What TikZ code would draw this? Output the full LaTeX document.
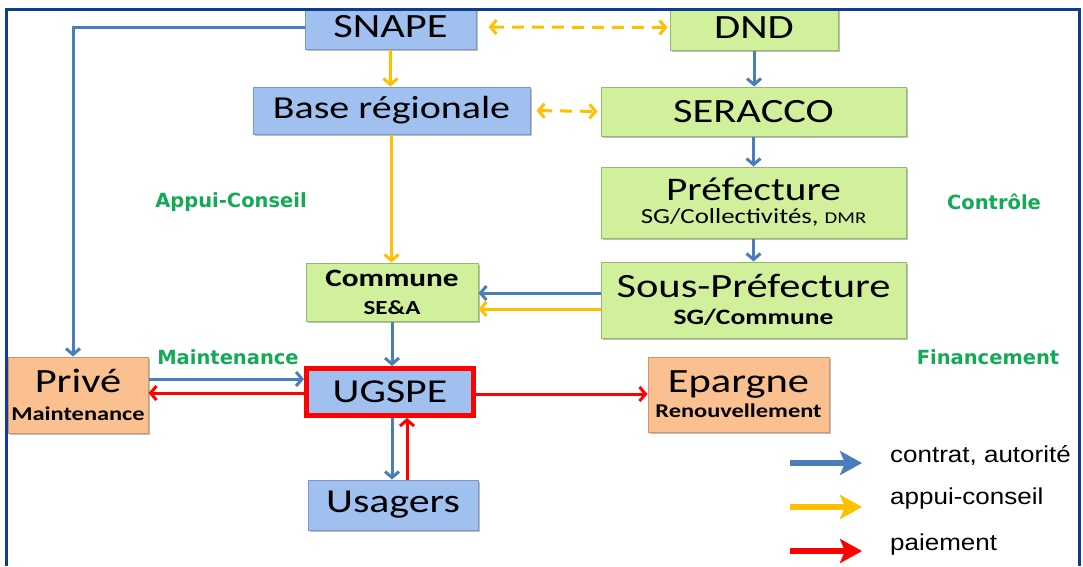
\documentclass[tikz,border=0pt]{standalone}
\usepackage{fontspec}
\setmainfont[FakeStretch=1.25]{Carlito}
\newfontfamily\greenfont{DejaVu Sans}
\newfontfamily\legfont[FakeStretch=1.13]{Liberation Sans}
\usetikzlibrary{arrows.meta,shadows}
\definecolor{boxblue}{RGB}{160,193,240}
\definecolor{boxblueline}{RGB}{125,150,200}
\definecolor{boxgreen}{RGB}{208,240,155}
\definecolor{boxgreenline}{RGB}{150,185,105}
\definecolor{boxorange}{RGB}{250,192,143}
\definecolor{boxorangeline}{RGB}{205,150,110}
\definecolor{lineblue}{RGB}{74,126,187}
\definecolor{lineorange}{RGB}{255,192,0}
\definecolor{linered}{RGB}{255,0,0}
\definecolor{textgreen}{RGB}{20,170,85}
\definecolor{framecol}{RGB}{15,60,140}
\newcommand{\fsz}[1]{\fontsize{#1}{#1}\selectfont}
\newcommand{\fs}[2]{\fontsize{#1}{#2}\selectfont}
\begin{document}
\begin{tikzpicture}[x=1pt,y=-1pt,
  box/.style={draw, line width=1pt, inner sep=0pt, align=center,
    drop shadow={shadow xshift=2pt,shadow yshift=-2pt,opacity=0.25,fill=black}},
  bluebox/.style={box, fill=boxblue, draw=boxblueline},
  greenbox/.style={box, fill=boxgreen, draw=boxgreenline},
  orangebox/.style={box, fill=boxorange, draw=boxorangeline},
  conn/.style={line width=3pt, -{Straight Barb[length=6pt,width=14pt]}},
  bconn/.style={conn, draw=lineblue},
  oconn/.style={conn, draw=lineorange},
  rconn/.style={conn, draw=linered},
  dconn/.style={line width=3pt, draw=lineorange, dash pattern=on 12pt off 8pt,
    {Straight Barb[length=6pt,width=14pt]}-{Straight Barb[length=6pt,width=14pt]}},
  legarrow/.style={line width=6.5pt, -{Stealth[length=22pt,width=24pt,inset=5pt]}},
  glabel/.style={font=\greenfont\bfseries\fsz{19.5}, text=textgreen},
  legtext/.style={font=\legfont\fsz{23}, anchor=west, inner sep=0pt}
]
\useasboundingbox (0,0) rectangle (1083,566);
\fill[white] (0,0) rectangle (1083,566);

% boxes
\node[bluebox, minimum width=171pt, minimum height=44pt, font=\fsz{34}] (snape) at (390.5,27) {SNAPE};
\node[greenbox, minimum width=168pt, minimum height=45pt, font=\fsz{34}] (dnd) at (754,27.5) {DND};
\node[bluebox, minimum width=277pt, minimum height=47pt, font=\fsz{32}] (base) at (391.5,110.5) {Base régionale};
\node[greenbox, minimum width=305pt, minimum height=49pt, font=\fsz{34}] (seracco) at (753.5,111.5) {SERACCO};
\node[greenbox, minimum width=305pt, minimum height=71pt, font=\fs{21.5}{23}] (pref) at (753.5,202.5)
  {\fs{33}{23}Préfecture\\\fs{21.5}{23}SG/Collectivités, {\fs{16.5}{23}DMR}};
\node[greenbox, minimum width=172pt, minimum height=58pt, font=\bfseries\fs{20}{28}] (commune) at (392,292)
  {\fs{25}{28}Commune\\\fs{20}{28}SE\&A};
\node[greenbox, minimum width=305pt, minimum height=76pt, font=\fs{22}{27}] (spref) at (753.5,300)
  {\fs{34}{27}Sous-Préfecture\\\bfseries\fs{22}{27}SG/Commune};
\node[orangebox, minimum width=140pt, minimum height=76pt, font=\fs{19.5}{28}] (prive) at (78,395)
  {\fs{34}{28}Privé\\\bfseries\fs{19.5}{28}Maintenance};
\node[box, fill=boxblue, draw=linered, line width=5pt, minimum width=167pt, minimum height=47pt, font=\fsz{33.5}] (ugspe) at (390,392) {UGSPE};
\node[orangebox, minimum width=181pt, minimum height=75pt, font=\fs{19.5}{25}] (epargne) at (738.5,394.5)
  {\fs{34}{25}Epargne\\\bfseries\fs{19.5}{25}Renouvellement};
\node[bluebox, minimum width=170pt, minimum height=50pt, font=\fsz{33.5}] (usagers) at (393,505) {Usagers};

% green labels
\node[glabel] (lappui) at (231,202) {Appui-Conseil};
\node[glabel] (lcontrole) at (994,202) {Contrôle};
\node[glabel] (lmaint) at (228,357) {Maintenance};
\node[glabel] (lfin) at (988,357) {Financement};

% connectors
\draw[bconn] (snape.west) -| ([xshift=-5pt]prive.north);
\draw[dconn, shorten <=12pt, shorten >=2pt] (snape.east) -- (dnd.west);
\draw[oconn] (snape.south) -- (base.north -| snape.south);
\draw[dconn, shorten <=6pt, shorten >=3pt] (base.east) -- (seracco.west);
\draw[bconn] (dnd.south) -- (seracco.north -| dnd.south);
\draw[bconn] (seracco.south) -- (pref.north);
\draw[bconn] (pref.south) -- (spref.north);
\draw[oconn] (base.south) -- (commune.north -| base.south);
\draw[bconn] ([yshift=7pt]spref.west) -- ([yshift=7pt]spref.west -| commune.east);
\draw[oconn] ([yshift=-9pt]spref.west) -- ([yshift=-9pt]spref.west -| commune.east);
\draw[bconn] (commune.south) -- (ugspe.north -| commune.south);
\draw[bconn] ([yshift=16pt]prive.east) -- ([yshift=16pt]prive.east -| ugspe.west);
\draw[rconn] ([yshift=-1pt]ugspe.west) -- ([yshift=-1pt]ugspe.west -| prive.east);
\draw[rconn] ([yshift=-2pt]ugspe.east) -- ([yshift=-2pt]ugspe.east -| epargne.west);
\draw[bconn] ([xshift=2pt]ugspe.south) -- ([xshift=2pt]ugspe.south |- usagers.north);
\draw[rconn] ([xshift=17pt]ugspe.south |- usagers.north) -- ([xshift=17pt]ugspe.south);

% legend
\coordinate (lb1) at (790,463);
\coordinate (lb2) at (862,463);
\coordinate (lo1) at (790,507);
\coordinate (lo2) at (862,507);
\coordinate (lr1) at (790,551);
\coordinate (lr2) at (862,551);
\draw[legarrow, draw=lineblue, fill=lineblue] (lb1) -- (lb2);
\draw[legarrow, draw=lineorange, fill=lineorange] (lo1) -- (lo2);
\draw[legarrow, draw=linered, fill=linered] (lr1) -- (lr2);
\node[legtext] (t1) at (890,455) {contrat, autorité};
\node[legtext] (t2) at (890,499) {appui-conseil};
\node[legtext] (t3) at (890,545) {paiement};

% frame
\fill[white] (0,0) rectangle (1083,8.5);
\draw[framecol, line width=3pt] (6.5,566) -- (6.5,9.5) -- (1079.5,9.5) -- (1079.5,566);
\end{tikzpicture}
\end{document}
